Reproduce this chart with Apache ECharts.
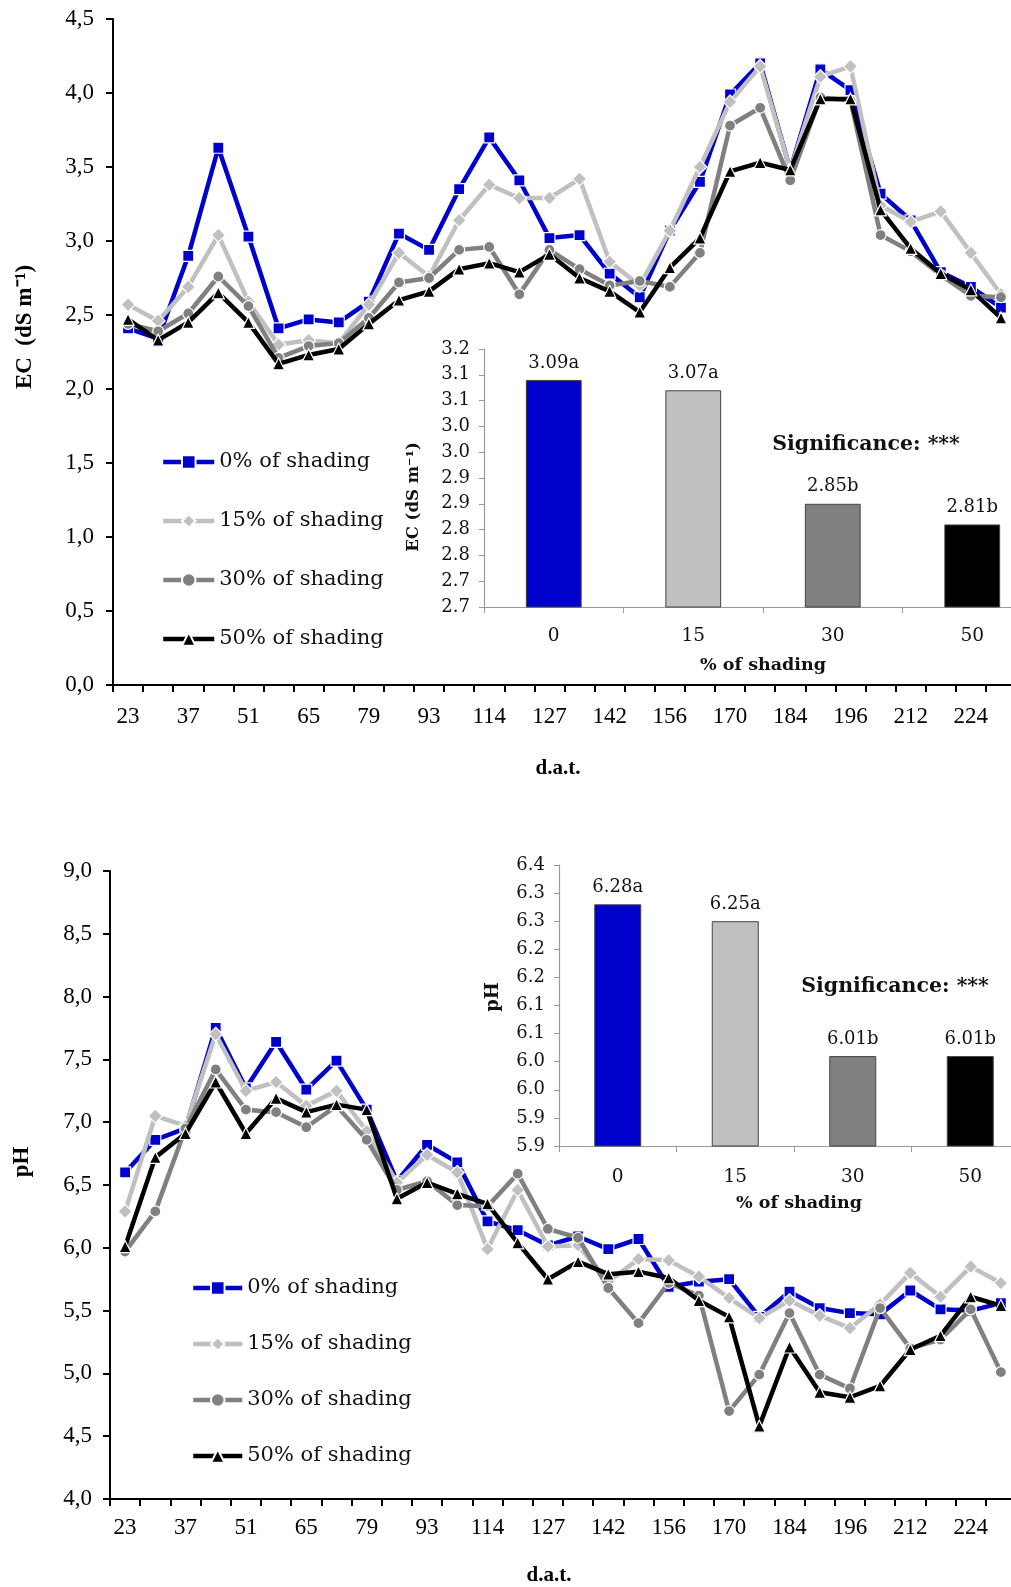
<!DOCTYPE html>
<html>
<head>
<meta charset="utf-8">
<script src="https://cdn.jsdelivr.net/npm/echarts@6/dist/echarts.min.js"></script>
<style>
  html, body { margin: 0; padding: 0; background: #fff; overflow: hidden; }
  #chart { width: 1060px; height: 1587px; }
</style>
</head>
<body>
<div id="chart"></div>
<script>
// Days after transplanting (every other one is labelled on the axis)
const dat = ['23','30','37','44','51','58','65','72','79','86','93','104','114','121','127','135',
             '142','149','156','163','170','177','184','190','196','204','212','218','224','231'];

const seriesNames = ['0% of shading', '15% of shading', '30% of shading', '50% of shading'];

// Electrical conductivity of the drainage (dS m-1)
const ec0  = [2.41,2.34,2.90,3.63,3.03,2.41,2.47,2.45,2.59,3.05,2.94,3.35,3.70,3.41,3.02,3.04,2.78,2.62,3.07,3.40,3.99,4.20,3.48,4.16,4.02,3.32,3.14,2.79,2.69,2.55];
const ec15 = [2.57,2.46,2.69,3.04,2.59,2.30,2.33,2.31,2.57,2.92,2.76,3.14,3.38,3.29,3.29,3.42,2.86,2.70,3.07,3.50,3.94,4.18,3.48,4.11,4.18,3.24,3.13,3.20,2.92,2.64];
const ec30 = [2.44,2.39,2.51,2.76,2.56,2.21,2.29,2.31,2.48,2.72,2.75,2.94,2.96,2.64,2.94,2.81,2.70,2.73,2.69,2.92,3.78,3.90,3.41,3.97,3.95,3.04,2.93,2.77,2.63,2.62];
const ec50 = [2.47,2.33,2.45,2.65,2.45,2.17,2.23,2.27,2.44,2.60,2.66,2.81,2.85,2.79,2.91,2.75,2.66,2.52,2.82,3.02,3.47,3.53,3.48,3.96,3.96,3.21,2.95,2.78,2.67,2.48];

// pH of the drainage
const ph0  = [6.60,6.86,6.95,7.75,7.27,7.64,7.26,7.49,7.10,6.53,6.82,6.68,6.21,6.14,6.02,6.09,5.99,6.07,5.69,5.73,5.75,5.45,5.65,5.52,5.48,5.47,5.66,5.51,5.50,5.56];
const ph15 = [6.29,7.05,6.97,7.70,7.25,7.32,7.13,7.25,6.93,6.52,6.74,6.60,5.99,6.46,6.01,6.02,5.73,5.91,5.90,5.77,5.60,5.44,5.58,5.46,5.36,5.55,5.80,5.61,5.85,5.72];
const ph30 = [5.97,6.29,6.95,7.42,7.10,7.08,6.96,7.13,6.86,6.46,6.53,6.34,6.33,6.59,6.15,6.08,5.68,5.40,5.72,5.62,4.70,4.99,5.48,4.99,4.88,5.52,5.20,5.27,5.51,5.01];
const ph50 = [6.01,6.72,6.91,7.32,6.91,7.19,7.08,7.14,7.10,6.39,6.52,6.43,6.35,6.04,5.75,5.89,5.79,5.81,5.76,5.58,5.45,4.58,5.21,4.85,4.81,4.90,5.19,5.30,5.61,5.54];

// Season means per shading level, with mean-separation letters
const shading   = ['0', '15', '30', '50'];
const ecMeans   = [3.09, 3.07, 2.85, 2.81];
const ecLetters = ['a', 'a', 'b', 'b'];
const phMeans   = [6.28, 6.25, 6.01, 6.01];
const phLetters = ['a', 'a', 'b', 'b'];

// Tick labels
const ecTickLabels = ['0,0','0,5','1,0','1,5','2,0','2,5','3,0','3,5','4,0','4,5'];
const phTickLabels = ['4,0','4,5','5,0','5,5','6,0','6,5','7,0','7,5','8,0','8,5','9,0'];
const ecMeanTickLabels = ['2.7','2.7','2.8','2.8','2.9','2.9','3.0','3.0','3.1','3.1','3.2'];
const phMeanTickLabels = ['5.9','5.9','6.0','6.0','6.1','6.1','6.2','6.2','6.3','6.3','6.4'];

const colors  = ['#0000CC', '#C0C0C0', '#808080', '#000000'];
const symbols = ['rect', 'diamond', 'circle', 'triangle'];
const symSize = [11, 14, 11, 12];

const SERIF = '"Liberation Serif", "Times New Roman", serif';
const BOOK  = '"DejaVu Serif", serif';

function tickFmt(labels, min, step) {
  return v => labels[Math.round((v - min) / step + 1e-6)] || '';
}

function lineSeries(values, k, axisIdx) {
  return {
    name: seriesNames[k],
    type: 'line',
    xAxisIndex: axisIdx,
    yAxisIndex: axisIdx,
    data: values,
    symbol: symbols[k],
    symbolSize: symSize[k],
    showAllSymbol: true,
    lineStyle: { color: colors[k], width: 4.5 },
    itemStyle: { color: colors[k], borderColor: '#ffffff', borderWidth: 1.2 },
    z: 3 + k
  };
}

function barSeries(values, letters, axisIdx) {
  return {
    type: 'bar',
    xAxisIndex: axisIdx,
    yAxisIndex: axisIdx,
    barWidth: '40%',
    data: values.map((v, i) => ({
      value: v,
      itemStyle: { color: colors[i], borderColor: '#444', borderWidth: 1 }
    })),
    label: {
      show: true,
      position: 'top',
      distance: 8,
      fontFamily: BOOK,
      fontSize: 18,
      color: '#111',
      formatter: p => p.value.toFixed(2) + letters[p.dataIndex]
    },
    z: 10
  };
}

const mainAxisLine = { show: true, lineStyle: { color: '#000', width: 2 } };
const insetAxisLine = { show: true, lineStyle: { color: '#999', width: 1.2 } };

const option = {
  animation: false,
  backgroundColor: '#ffffff',
  grid: [
    { left: 113, top: 19,  width: 903, height: 666, outerBoundsMode: 'none' },   // EC time course
    { left: 484, top: 349, width: 558, height: 258, outerBoundsMode: 'none' },   // EC means
    { left: 110, top: 871, width: 906, height: 628, outerBoundsMode: 'none' },   // pH time course
    { left: 559, top: 865, width: 470, height: 281, outerBoundsMode: 'none' }    // pH means
  ],
  xAxis: [
    {
      gridIndex: 0, type: 'category', data: dat, boundaryGap: true,
      axisLine: mainAxisLine,
      axisTick: { show: true, interval: 0, length: 7, lineStyle: { color: '#000', width: 2 } },
      axisLabel: { interval: 1, margin: 20, fontFamily: SERIF, fontSize: 23, color: '#000' }
    },
    {
      gridIndex: 1, type: 'category', data: shading, boundaryGap: true,
      axisLine: insetAxisLine,
      axisTick: { show: true, interval: 0, length: 6, lineStyle: { color: '#999' } },
      axisLabel: { margin: 20, fontFamily: BOOK, fontSize: 18.5, color: '#111' }
    },
    {
      gridIndex: 2, type: 'category', data: dat, boundaryGap: true,
      axisLine: mainAxisLine,
      axisTick: { show: true, interval: 0, length: 7, lineStyle: { color: '#000', width: 2 } },
      axisLabel: { interval: 1, margin: 17, fontFamily: SERIF, fontSize: 23, color: '#000' }
    },
    {
      gridIndex: 3, type: 'category', data: shading, boundaryGap: true,
      axisLine: insetAxisLine,
      axisTick: { show: true, interval: 0, length: 6, lineStyle: { color: '#999' } },
      axisLabel: { margin: 22, fontFamily: BOOK, fontSize: 18.5, color: '#111' }
    }
  ],
  yAxis: [
    {
      gridIndex: 0, type: 'value', min: 0, max: 4.5, interval: 0.5,
      axisLine: mainAxisLine,
      axisTick: { show: true, length: 7, lineStyle: { color: '#000', width: 2 } },
      splitLine: { show: false },
      axisLabel: { margin: 19, fontFamily: SERIF, fontSize: 23, color: '#000',
                   formatter: tickFmt(ecTickLabels, 0, 0.5) }
    },
    {
      gridIndex: 1, type: 'value', min: 2.65, max: 3.15, interval: 0.05,
      axisLine: insetAxisLine,
      axisTick: { show: true, length: 5, lineStyle: { color: '#999' } },
      splitLine: { show: false },
      axisLabel: { margin: 14, fontFamily: BOOK, fontSize: 18, color: '#111',
                   formatter: tickFmt(ecMeanTickLabels, 2.65, 0.05) }
    },
    {
      gridIndex: 2, type: 'value', min: 4, max: 9, interval: 0.5,
      axisLine: mainAxisLine,
      axisTick: { show: true, length: 7, lineStyle: { color: '#000', width: 2 } },
      splitLine: { show: false },
      axisLabel: { margin: 18, fontFamily: SERIF, fontSize: 23, color: '#000',
                   formatter: tickFmt(phTickLabels, 4, 0.5) }
    },
    {
      gridIndex: 3, type: 'value', min: 5.85, max: 6.35, interval: 0.05,
      axisLine: insetAxisLine,
      axisTick: { show: true, length: 5, lineStyle: { color: '#999' } },
      splitLine: { show: false },
      axisLabel: { margin: 14, fontFamily: BOOK, fontSize: 18, color: '#111',
                   formatter: tickFmt(phMeanTickLabels, 5.85, 0.05) }
    }
  ],
  legend: [
    {
      orient: 'vertical', left: 161, top: 450, padding: 0,
      itemWidth: 51, itemHeight: 17, itemGap: 35,
      data: seriesNames,
      lineStyle: { width: 4.5 },
      textStyle: { fontFamily: BOOK, fontSize: 21, color: '#111', lineHeight: 24 }
    },
    {
      orient: 'vertical', left: 191, top: 1276, padding: 0,
      itemWidth: 49, itemHeight: 17, itemGap: 32,
      data: seriesNames,
      lineStyle: { width: 4.5 },
      textStyle: { fontFamily: BOOK, fontSize: 21, color: '#111', lineHeight: 24 }
    }
  ],
  graphic: [
    { type: 'text', x: 25, y: 327, rotation: Math.PI / 2,
      style: { text: 'EC  (dS m⁻¹)', fontFamily: SERIF, fontWeight: 'bold', fontSize: 23,
               fill: '#000', align: 'center', verticalAlign: 'middle' } },
    { type: 'text', x: 558, y: 769,
      style: { text: 'd.a.t.', fontFamily: SERIF, fontWeight: 'bold', fontSize: 21,
               fill: '#000', align: 'center', verticalAlign: 'middle' } },
    { type: 'text', x: 414, y: 497, rotation: Math.PI / 2,
      style: { text: 'EC (dS m⁻¹)', fontFamily: BOOK, fontWeight: 'bold', fontSize: 16.5,
               fill: '#111', align: 'center', verticalAlign: 'middle' } },
    { type: 'text', x: 763, y: 665,
      style: { text: '% of shading', fontFamily: BOOK, fontWeight: 'bold', fontSize: 17.5,
               fill: '#111', align: 'center', verticalAlign: 'middle' } },
    { type: 'text', x: 866, y: 445,
      style: { text: 'Significance: ***', fontFamily: BOOK, fontWeight: 'bold', fontSize: 20.5,
               fill: '#111', align: 'center', verticalAlign: 'middle' } },

    { type: 'text', x: 22, y: 1162, rotation: Math.PI / 2,
      style: { text: 'pH', fontFamily: SERIF, fontWeight: 'bold', fontSize: 23,
               fill: '#000', align: 'center', verticalAlign: 'middle' } },
    { type: 'text', x: 549, y: 1576,
      style: { text: 'd.a.t.', fontFamily: SERIF, fontWeight: 'bold', fontSize: 21,
               fill: '#000', align: 'center', verticalAlign: 'middle' } },
    { type: 'text', x: 493, y: 997, rotation: Math.PI / 2,
      style: { text: 'pH', fontFamily: BOOK, fontWeight: 'bold', fontSize: 18,
               fill: '#111', align: 'center', verticalAlign: 'middle' } },
    { type: 'text', x: 799, y: 1203,
      style: { text: '% of shading', fontFamily: BOOK, fontWeight: 'bold', fontSize: 17.5,
               fill: '#111', align: 'center', verticalAlign: 'middle' } },
    { type: 'text', x: 895, y: 987,
      style: { text: 'Significance: ***', fontFamily: BOOK, fontWeight: 'bold', fontSize: 20.5,
               fill: '#111', align: 'center', verticalAlign: 'middle' } }
  ],
  series: [
    lineSeries(ec0, 0, 0), lineSeries(ec15, 1, 0), lineSeries(ec30, 2, 0), lineSeries(ec50, 3, 0),
    barSeries(ecMeans, ecLetters, 1),
    lineSeries(ph0, 0, 2), lineSeries(ph15, 1, 2), lineSeries(ph30, 2, 2), lineSeries(ph50, 3, 2),
    barSeries(phMeans, phLetters, 3)
  ]
};

const chart = echarts.init(document.getElementById('chart'), null, { renderer: 'canvas' });
chart.setOption(option);
</script>
</body>
</html>
